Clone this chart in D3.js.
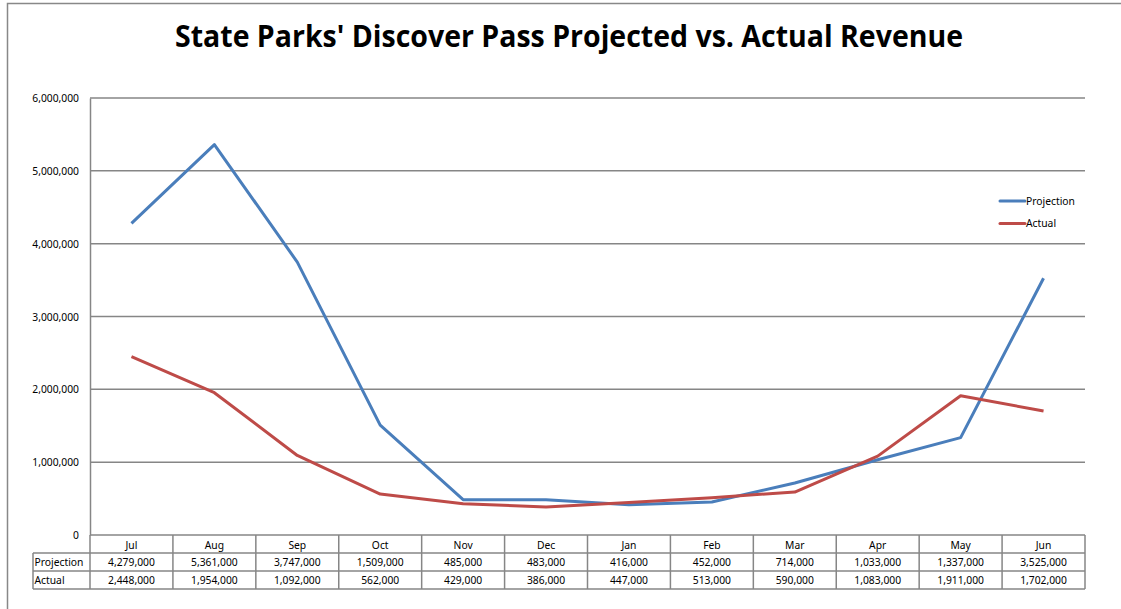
<!DOCTYPE html>
<html><head><meta charset="utf-8">
<script src="https://cdn.jsdelivr.net/npm/d3@7"></script>
<style>
html,body{margin:0;padding:0;background:#fff;}
svg{display:block;}
text{font-family:"Noto Sans","Open Sans",sans-serif;fill:#000;}
</style></head>
<body>
<svg id="chart" width="1121" height="609"></svg>
<script>
const months = ["Jul","Aug","Sep","Oct","Nov","Dec","Jan","Feb","Mar","Apr","May","Jun"];
const projection = [4279000,5361000,3747000,1509000,485000,483000,416000,452000,714000,1033000,1337000,3525000];
const actual = [2448000,1954000,1092000,562000,429000,386000,447000,513000,590000,1083000,1911000,1702000];
const yTicks = [0,1000000,2000000,3000000,4000000,5000000,6000000];
const seriesNames = ["Projection","Actual"];
const title = "State Parks' Discover Pass Projected vs. Actual Revenue";

const svg = d3.select("#chart");
const m = {left:90, right:1085, top:98, bottom:535};
const gridColor = "#868686";
const colors = ["#4a7ebb","#be4b48"];
const fs = 10.3;

// outer border (top & left visible)
svg.append("path").attr("d","M7.5,609 V3.5 H1121").attr("fill","none").attr("stroke","#888").attr("stroke-width",1.5);

// title
svg.append("text").attr("x",569).attr("y",47).attr("text-anchor","middle")
  .attr("font-size",30).attr("font-weight","bold")
  .style("font-family","'Liberation Sans Narrow','Open Sans',sans-serif")
  .attr("textLength",788).attr("lengthAdjust","spacingAndGlyphs").text(title);

const x = d3.scaleBand().domain(months).range([m.left,m.right]);
const y = d3.scaleLinear().domain([0,6000000]).range([m.bottom,m.top]);

// gridlines
svg.append("g").selectAll("line").data(yTicks.filter(d=>d>0)).join("line")
  .attr("x1",m.left).attr("x2",m.right).attr("y1",d=>y(d)).attr("y2",d=>y(d))
  .attr("stroke",gridColor).attr("stroke-width",1.5);

// y axis
const yAxis = d3.axisLeft(y).tickValues(yTicks).tickSize(0).tickPadding(11)
  .tickFormat(d3.format(","));
const ga = svg.append("g").attr("transform",`translate(${m.left},0)`).call(yAxis);
ga.select(".domain").attr("stroke",gridColor).attr("stroke-width",1.5);
ga.selectAll("text").attr("font-size",fs).attr("font-family","'Noto Sans',sans-serif").attr("dy","0.35em");

// lines
const series = [projection, actual];
const line = d3.line().x((d,i)=>x(months[i])+x.bandwidth()/2).y(d=>y(d));
series.forEach((s,k)=>{
  svg.append("path").datum(s).attr("d",line).attr("fill","none")
    .attr("stroke",colors[k]).attr("stroke-width",3).attr("stroke-linejoin","round");
});

// legend
seriesNames.forEach((n,k)=>{
  const ly = 201 + k*22.5;
  svg.append("line").attr("x1",1000).attr("x2",1025).attr("y1",ly).attr("y2",ly)
    .attr("stroke",colors[k]).attr("stroke-width",3).attr("stroke-linecap","round");
  svg.append("text").attr("x",1026).attr("y",ly).attr("dy","0.35em").attr("font-size",fs).text(n);
});

// data table
const rowTop = [535,553,571,589];
const tblLeft = 33;
const tg = svg.append("g");
tg.append("line").attr("x1",m.left).attr("x2",m.right).attr("y1",535).attr("y2",535).attr("stroke",gridColor).attr("stroke-width",1.5);
[553,571,589].forEach(yy=>{
  tg.append("line").attr("x1",tblLeft).attr("x2",m.right).attr("y1",yy).attr("y2",yy).attr("stroke",gridColor).attr("stroke-width",1.5);
});
const xs = months.map(mn=>x(mn)).concat([m.right]);
xs.forEach(xx=>{
  tg.append("line").attr("x1",xx).attr("x2",xx).attr("y1",535).attr("y2",589).attr("stroke",gridColor).attr("stroke-width",1.5);
});
tg.append("line").attr("x1",tblLeft).attr("x2",tblLeft).attr("y1",553).attr("y2",589).attr("stroke",gridColor).attr("stroke-width",1.5);

months.forEach(mn=>{
  tg.append("text").attr("x",x(mn)+x.bandwidth()/2).attr("y",545).attr("dy","0.35em")
    .attr("text-anchor","middle").attr("font-size",fs).text(mn);
});
const fmt = d3.format(",");
series.forEach((s,k)=>{
  const cy = (rowTop[k+1]+rowTop[k+2])/2;
  tg.append("text").attr("x",tblLeft+1.5).attr("y",cy).attr("dy","0.35em").attr("font-size",fs).text(seriesNames[k]);
  s.forEach((v,i)=>{
    tg.append("text").attr("x",x(months[i])+x.bandwidth()/2).attr("y",cy).attr("dy","0.35em")
      .attr("text-anchor","middle").attr("font-size",fs).text(fmt(v));
  });
});
</script>
</body></html>
